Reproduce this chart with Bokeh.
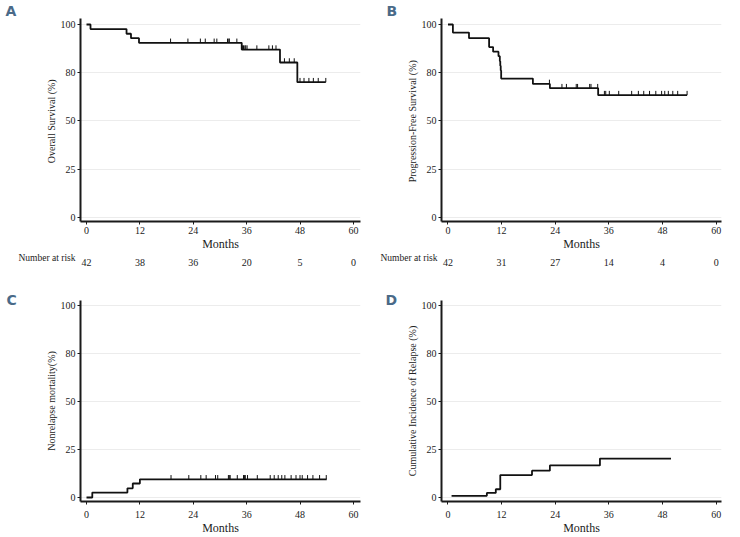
import numpy as np
from bokeh.plotting import figure
from bokeh.models import FixedTicker, LinearAxis, Range1d, Title
from bokeh.layouts import column, row
from bokeh.embed import file_html
from bokeh.resources import INLINE

# ---------------- data ----------------
month_ticks = [0, 12, 24, 36, 48, 60]
pct_ticks = [0, 25, 50, 75, 100]
pct_labels = ["0", "25", "50", "80", "100"]

# A: overall survival
os_time = [0, 0.9, 9.0, 10.0, 11.8, 34.9, 43.5, 47.4, 53.8]
os_surv = [100, 97.6, 95.2, 92.9, 90.5, 87.0, 80.3, 70.1, 70.1]
os_cens = [18.9, 22.8, 25.6, 26.7, 28.7, 29.3, 31.7, 32.0, 32.1, 33.8,
           35.1, 35.3, 35.6, 35.8, 36.1, 38.3, 41.0, 41.8, 42.6,
           44.5, 45.6, 46.7, 48.0, 48.9, 50.0, 51.0, 52.1, 53.8]
os_risk = [42, 38, 36, 20, 5, 0]

# B: progression-free survival
pfs_time = [0, 1.1, 4.7, 9.2, 10.1, 11.3, 11.6, 11.7, 11.8, 11.9, 19.0, 22.8, 33.6, 53.5]
pfs_surv = [100, 95.8, 92.9, 88.3, 85.9, 83.6, 81.0, 78.6, 76.2, 72.0, 69.2, 67.0, 63.4, 63.4]
pfs_cens = [22.7, 25.5, 26.5, 28.7, 29.0, 31.7, 32.0, 33.5,
            35.0, 35.3, 36.1, 38.2, 41.1, 42.6, 43.8, 45.1, 46.5, 47.8,
            48.5, 49.3, 50.3, 51.4, 53.5]
pfs_risk = [42, 31, 27, 14, 4, 0]

# C: nonrelapse mortality
nrm_time = [0, 1.3, 9.2, 10.4, 12.0, 54.0]
nrm_val = [0, 2.6, 4.8, 7.3, 9.5, 9.5]
nrm_cens = [19.0, 23.0, 25.7, 26.9, 29.0, 29.5, 31.9, 32.1, 32.3, 33.9,
            35.3, 35.5, 35.7, 36.2, 38.4, 41.3, 42.2, 43.1, 43.9, 44.6,
            46.0, 47.1, 48.0, 48.5, 49.7, 50.9, 52.4, 53.9]

# D: cumulative incidence of relapse
cir_time = [0.8, 8.7, 10.7, 11.7, 18.8, 22.8, 34.0, 49.9]
cir_val = [0.9, 2.4, 4.3, 11.7, 14.0, 16.7, 20.3, 20.3]

SERIF = "Liberation Serif"
LETTER_COLOR = "#4a6a88"
TEXT_COLOR = "#222222"
LINE_COLOR = "#111111"


def level_at(times, vals, pts):
    idx = np.searchsorted(np.asarray(times), np.asarray(pts), side="right") - 1
    return np.asarray(vals)[idx]


def make_panel(letter, ylabel, t, v, cens, risk, width, left_b, frame_w, top_b, frame_h,
               bottom_b, xr, yr, letter_x, letter_standoff, tick_standoff, risk_x=None):
    height = top_b + frame_h + bottom_b
    p = figure(width=width, height=height, x_range=Range1d(*xr), y_range=Range1d(*yr),
               output_backend="svg", toolbar_location=None,
               min_border_left=left_b, min_border_right=width - left_b - frame_w,
               min_border_top=top_b, min_border_bottom=bottom_b)
    p.outline_line_color = None
    p.background_fill_color = "white"
    p.xgrid.grid_line_color = None
    p.ygrid.grid_line_color = "#ececec"
    p.ygrid.grid_line_width = 1

    # panel letter as the figure title, shifted left of the frame
    p.title.text = letter
    p.title.align = "left"
    p.title.offset = letter_x - left_b
    p.title.standoff = letter_standoff
    p.title.text_font = "DejaVu Sans"
    p.title.text_font_style = "bold"
    p.title.text_font_size = "14px"
    p.title.text_color = LETTER_COLOR

    p.xaxis.ticker = FixedTicker(ticks=month_ticks)
    p.yaxis.ticker = FixedTicker(ticks=pct_ticks)
    p.yaxis.major_label_overrides = {tk: lb for tk, lb in zip(pct_ticks, pct_labels)}
    for ax in (p.xaxis[0], p.yaxis[0]):
        ax.axis_line_width = 2
        ax.axis_line_color = "#1a1a1a"
        ax.major_tick_line_color = "#1a1a1a"
        ax.major_tick_out = 3
        ax.major_tick_in = 0
        ax.minor_tick_line_color = None
        ax.major_label_text_font = SERIF
        ax.major_label_text_font_size = "10px"
        ax.major_label_text_color = TEXT_COLOR
        ax.axis_label_text_font = SERIF
        ax.axis_label_text_font_style = "normal"
        ax.axis_label_text_color = TEXT_COLOR
    p.yaxis.major_label_standoff = 2
    p.xaxis.major_label_standoff = tick_standoff
    p.xaxis.axis_label = "Months"
    p.xaxis.axis_label_text_font_size = "12px"
    p.xaxis.axis_label_standoff = 0
    p.yaxis.axis_label = ylabel
    p.yaxis.axis_label_text_font_size = "10px"
    p.yaxis.axis_label_standoff = 1

    p.step(t, v, mode="after", line_color=LINE_COLOR, line_width=1.8)
    if cens is not None:
        lv = level_at(t, v, cens)
        p.segment(x0=cens, y0=lv, x1=cens, y1=lv + 2.2, line_color=LINE_COLOR, line_width=1)

    if risk is not None:
        ra = LinearAxis(ticker=FixedTicker(ticks=month_ticks),
                        major_label_overrides={tk: str(n) for tk, n in zip(month_ticks, risk)})
        ra.axis_line_color = None
        ra.major_tick_line_color = None
        ra.minor_tick_line_color = None
        ra.major_label_text_font = SERIF
        ra.major_label_text_font_size = "10px"
        ra.major_label_text_color = TEXT_COLOR
        ra.major_label_standoff = -8
        nar = Title(text="Number at risk", align="left", offset=risk_x - left_b, standoff=-5,
                    text_font=SERIF, text_font_size="9.5px", text_font_style="normal",
                    text_color=TEXT_COLOR)
        p.add_layout(ra, "below")
        p.add_layout(nar, "below")
        p.below = [p.below[0], nar, ra]
    return p


TOP = dict(top_b=18, frame_h=203, bottom_b=49, yr=(-2.07, 103.1), tick_standoff=2,
           letter_standoff=0)
BOT = dict(top_b=30, frame_h=202, bottom_b=35, yr=(-2.07, 102.6), tick_standoff=6,
           letter_standoff=-14)

pA = make_panel("A", "Overall Survival  (%)", os_time, os_surv, os_cens, os_risk,
                width=370, left_b=80, frame_w=280, xr=(-1.35, 61.6),
                letter_x=5, risk_x=18, **TOP)
pB = make_panel("B", "Progression-Free Survival  (%)", pfs_time, pfs_surv, pfs_cens, pfs_risk,
                width=370, left_b=71, frame_w=280, xr=(-1.45, 61.2),
                letter_x=16, risk_x=10, **TOP)
pC = make_panel("C", "Nonrelapse mortality(%)", nrm_time, nrm_val, nrm_cens, None,
                width=370, left_b=80, frame_w=280, xr=(-1.35, 61.6),
                letter_x=6, **BOT)
pD = make_panel("D", "Cumulative Incidence of Relapse (%)", cir_time, cir_val, None, None,
                width=370, left_b=71, frame_w=280, xr=(-1.45, 61.2),
                letter_x=15, **BOT)

layout = column(row(pA, pB), row(pC, pD))
open("out.html", "w").write(file_html(layout, INLINE))
